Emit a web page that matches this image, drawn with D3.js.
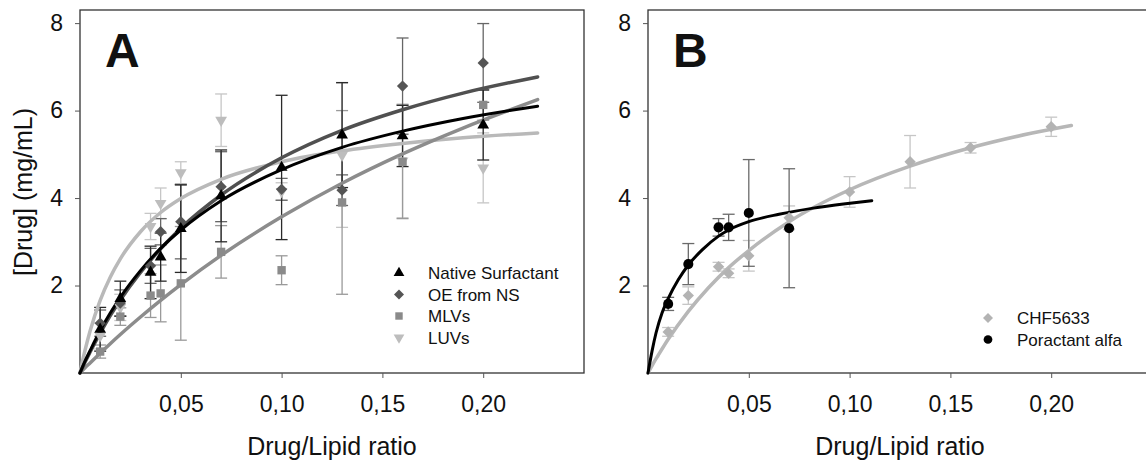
<!DOCTYPE html>
<html>
<head>
<meta charset="utf-8">
<script src="https://cdn.jsdelivr.net/npm/d3@7"></script>
<style>
  body { margin: 0; background: #fff; }
  svg { display: block; }
  text { font-family: "Liberation Sans", Arial, sans-serif; fill: #111; }
</style>
</head>
<body>
<svg id="chart" width="1146" height="462"></svg>
<script>
// ---- Panel A: drug binding to surfactant preparations ----
const ratiosA = [0.01, 0.02, 0.035, 0.04, 0.05, 0.07, 0.10, 0.13, 0.16, 0.20];

const nativeSurf    = [1.00, 1.70, 2.30, 2.65, 3.30, 4.05, 4.70, 5.44, 5.42, 5.67];
const nativeSurfErr = [0.50, 0.40, 0.60, 0.55, 1.00, 1.05, 1.65, 1.20, 0.70, 0.80];

const oeFromNS      = [1.14, 1.60, 2.45, 3.23, 3.46, 4.26, 4.20, 4.18, 6.56, 7.09];
const oeFromNSErr   = [0.30, 0.30, 0.40, 0.30, 0.85, 0.80, 0.25, 0.35, 1.10, 0.90];

const mlvs          = [0.49, 1.29, 1.77, 1.82, 2.05, 2.77, 2.35, 3.90, 4.83, 6.13];
const mlvsErr       = [0.15, 0.20, 0.50, 0.65, 1.30, 0.60, 0.33, 2.10, 1.30, 0.35];

const luvs          = [0.85, 1.50, 3.35, 3.88, 4.58, 5.78, 4.15, 4.98, 4.85, 4.69];
const luvsErr       = [0.30, 0.30, 0.30, 0.35, 0.25, 0.60, 0.20, 1.65, 1.30, 0.80];

// fitted binding curves, sampled along the ratio axis
const fitRatiosA = [0, 0.001, 0.0025, 0.005, 0.01, 0.015, 0.02, 0.03, 0.04, 0.05, 0.07, 0.10, 0.13, 0.16, 0.19, 0.227];
const fitNativeSurf = [0, 0.11, 0.27, 0.51, 0.97, 1.37, 1.73, 2.34, 2.85, 3.27, 3.94, 4.65, 5.16, 5.53, 5.82, 6.10];
const fitOEFromNS   = [0, 0.10, 0.25, 0.48, 0.91, 1.31, 1.67, 2.30, 2.84, 3.31, 4.07, 4.92, 5.55, 6.02, 6.40, 6.77];
const fitMLVs       = [0, 0.05, 0.12, 0.23, 0.45, 0.67, 0.88, 1.28, 1.66, 2.02, 2.69, 3.57, 4.34, 5.01, 5.60, 6.25];
const fitLUVs       = [0, 0.22, 0.52, 0.96, 1.66, 2.19, 2.61, 3.23, 3.67, 3.99, 4.43, 4.83, 5.08, 5.25, 5.38, 5.49];

// ---- Panel B: CHF5633 vs poractant alfa ----
const ratiosCHF = [0.01, 0.02, 0.035, 0.04, 0.05, 0.07, 0.10, 0.13, 0.16, 0.20];
const chf5633    = [0.94, 1.77, 2.43, 2.28, 2.68, 3.55, 4.14, 4.83, 5.15, 5.63];
const chf5633Err = [0.10, 0.20, 0.10, 0.10, 0.35, 0.27, 0.35, 0.60, 0.12, 0.22];

const ratiosPor = [0.01, 0.02, 0.035, 0.04, 0.05, 0.07];
const poractant    = [1.58, 2.49, 3.33, 3.33, 3.66, 3.31];
const poractantErr = [0.15, 0.47, 0.20, 0.30, 1.22, 1.36];

const fitRatiosCHF = [0, 0.0025, 0.005, 0.01, 0.02, 0.03, 0.04, 0.05, 0.07, 0.10, 0.13, 0.16, 0.19, 0.21];
const fitCHF5633   = [0, 0.21, 0.40, 0.77, 1.41, 1.95, 2.41, 2.80, 3.46, 4.19, 4.73, 5.15, 5.48, 5.66];
const fitRatiosPor = [0, 0.002, 0.004, 0.007, 0.01, 0.015, 0.02, 0.027, 0.035, 0.04, 0.05, 0.065, 0.082, 0.098, 0.111];
const fitPoractant = [0, 0.50, 0.92, 1.38, 1.70, 2.13, 2.47, 2.82, 3.13, 3.27, 3.46, 3.63, 3.77, 3.87, 3.94];

const yTicks = [2, 4, 6, 8];
const xTicks = [0.05, 0.10, 0.15, 0.20];

// ---- drawing ----
const svg = d3.select("#chart");
const fmt = d => d3.format(".2f")(d).replace(".", ",");

// marker shapes: a diamond here is a square turned by 45 degrees
const shapes = {
  triangle: { type: d3.symbolTriangle, rot: 0 },
  triangleDown: { type: d3.symbolTriangle, rot: 180 },
  diamond: { type: d3.symbolSquare, rot: 45 },
  square: { type: d3.symbolSquare, rot: 0 },
  circle: { type: d3.symbolCircle, rot: 0 }
};

function panel(left, letter) {
  const top = 10, bottom = 373;
  const x = d3.scaleLinear().domain([0, 0.25]).range([left, left + 504]);
  const y = d3.scaleLinear().domain([0, 8.3]).range([bottom, top]);
  const g = svg.append("g");

  // frame
  g.append("rect")
    .attr("x", left).attr("y", top)
    .attr("width", x(0.25) - left).attr("height", bottom - top)
    .attr("fill", "none").attr("stroke", "#333").attr("stroke-width", 1.3);

  const yAxis = g.append("g").attr("transform", `translate(${left},0)`)
    .call(d3.axisLeft(y).tickValues(yTicks).tickSize(5).tickPadding(12).tickFormat(d3.format("d")));
  const xAxis = g.append("g").attr("transform", `translate(0,${bottom})`)
    .call(d3.axisBottom(x).tickValues(xTicks).tickSize(5).tickPadding(18).tickFormat(fmt));
  [yAxis, xAxis].forEach(a => {
    a.select(".domain").remove();
    a.selectAll(".tick line").attr("stroke", "#555").attr("stroke-width", 1);
    a.selectAll(".tick text").attr("font-size", 23).attr("fill", "#111")
      .attr("font-family", '"Liberation Sans", Arial, sans-serif');
  });

  g.append("text").attr("x", (left + x(0.25)) / 2).attr("y", 455)
    .attr("text-anchor", "middle").attr("font-size", 25).text("Drug/Lipid ratio");

  g.append("text").attr("x", left + 25).attr("y", 67)
    .attr("font-size", 48).attr("font-weight", "bold").attr("fill", "#000").text(letter);

  return { g, x, y };
}

function errorBars(p, xs, ys, es, color) {
  const cap = 6;
  const bars = p.g.append("g").attr("stroke", color).attr("stroke-width", 1.3).attr("fill", "none");
  xs.forEach((xv, i) => {
    const cx = p.x(xv), y1 = p.y(ys[i] + es[i]), y0 = p.y(Math.max(0, ys[i] - es[i]));
    bars.append("line").attr("x1", cx).attr("x2", cx).attr("y1", y1).attr("y2", y0);
    bars.append("line").attr("x1", cx - cap).attr("x2", cx + cap).attr("y1", y1).attr("y2", y1);
    bars.append("line").attr("x1", cx - cap).attr("x2", cx + cap).attr("y1", y0).attr("y2", y0);
  });
}

function fitLine(p, xs, ys, color, width) {
  const line = d3.line().x((d, i) => p.x(xs[i])).y(d => p.y(d)).curve(d3.curveMonotoneX);
  p.g.append("path").datum(ys).attr("d", line)
    .attr("fill", "none").attr("stroke", color).attr("stroke-width", width)
    .attr("stroke-linecap", "round");
}

function markers(p, xs, ys, shape, size, color) {
  const s = shapes[shape];
  const sym = d3.symbol().type(s.type).size(size);
  p.g.append("g").selectAll("path").data(ys).join("path")
    .attr("d", sym)
    .attr("transform", (d, i) => `translate(${p.x(xs[i])},${p.y(d)}) rotate(${s.rot})`)
    .attr("fill", color);
}

function legend(p, lx, ly, items) {
  const lg = p.g.append("g");
  items.forEach((it, i) => {
    const yy = ly + i * 21.5;
    const s = shapes[it.shape];
    lg.append("path").attr("d", d3.symbol().type(s.type).size(it.size))
      .attr("transform", `translate(${lx},${yy}) rotate(${s.rot})`)
      .attr("fill", it.color);
    lg.append("text").attr("x", lx + 29).attr("y", yy + 6).attr("font-size", 17).text(it.label);
  });
}

// Panel A
const A = panel(80, "A");
const colNS = "#000000", colOE = "#555555", colMLV = "#8a8a8a", colLUV = "#bdbdbd";

errorBars(A, ratiosA, luvs, luvsErr, "#c6c6c6");
errorBars(A, ratiosA, mlvs, mlvsErr, "#9a9a9a");
errorBars(A, ratiosA, oeFromNS, oeFromNSErr, "#666666");
errorBars(A, ratiosA, nativeSurf, nativeSurfErr, "#2a2a2a");

fitLine(A, fitRatiosA, fitLUVs, "#b9b9b9", 3.5);
fitLine(A, fitRatiosA, fitMLVs, "#8c8c8c", 3.5);
fitLine(A, fitRatiosA, fitOEFromNS, "#505050", 3.5);
fitLine(A, fitRatiosA, fitNativeSurf, "#000000", 3);

markers(A, ratiosA, luvs, "triangleDown", 60, colLUV);
markers(A, ratiosA, mlvs, "square", 70, colMLV);
markers(A, ratiosA, oeFromNS, "diamond", 64, colOE);
markers(A, ratiosA, nativeSurf, "triangle", 60, colNS);

legend(A, 399, 273, [
  { label: "Native Surfactant", shape: "triangle", size: 50, color: colNS },
  { label: "OE from NS", shape: "diamond", size: 50, color: colOE },
  { label: "MLVs", shape: "square", size: 55, color: colMLV },
  { label: "LUVs", shape: "triangleDown", size: 50, color: colLUV }
]);

// y-axis title
svg.append("text")
  .attr("transform", "translate(32,192) rotate(-90)")
  .attr("text-anchor", "middle").attr("font-size", 25).text("[Drug] (mg/mL)");

// Panel B
const B = panel(648, "B");
const colCHF = "#b3b3b3", colPor = "#000000";

errorBars(B, ratiosCHF, chf5633, chf5633Err, "#c6c6c6");
errorBars(B, ratiosPor, poractant, poractantErr, "#6a6a6a");

fitLine(B, fitRatiosCHF, fitCHF5633, "#b7b7b7", 3.5);
fitLine(B, fitRatiosPor, fitPoractant, "#000000", 3);

markers(B, ratiosCHF, chf5633, "diamond", 64, colCHF);
markers(B, ratiosPor, poractant, "circle", 80, colPor);

legend(B, 988, 318, [
  { label: "CHF5633", shape: "diamond", size: 50, color: colCHF },
  { label: "Poractant alfa", shape: "circle", size: 60, color: colPor }
]);
</script>
</body>
</html>
